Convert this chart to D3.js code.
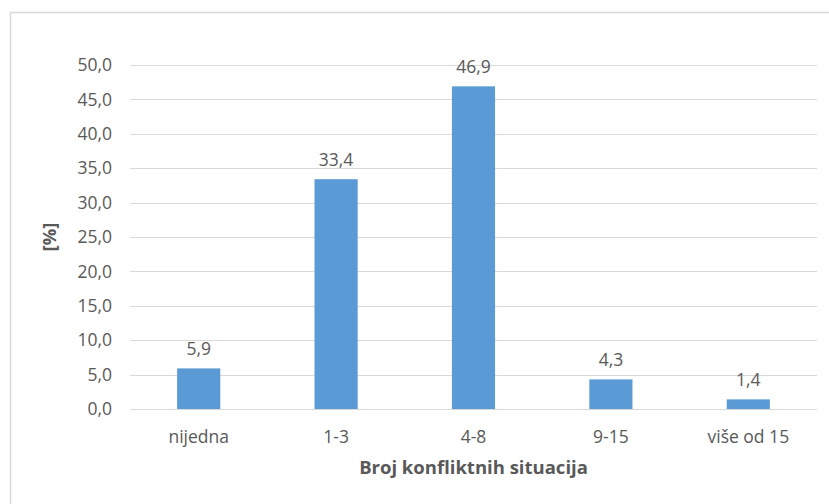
<!DOCTYPE html>
<html>
<head>
<meta charset="utf-8">
<script src="https://cdn.jsdelivr.net/npm/d3@7"></script>
<style>
  body { margin: 0; background: #fff; }
  svg text { font-family: "Open Sans", "Liberation Sans", sans-serif; fill: #595959; }
</style>
</head>
<body>
<svg id="chart" width="829" height="504"></svg>
<script>
// Number of conflict situations and their share in percent
const categories = ["nijedna", "1-3", "4-8", "9-15", "više od 15"];
const values = [5.9, 33.4, 46.9, 4.3, 1.4];
const yTicks = [0, 5, 10, 15, 20, 25, 30, 35, 40, 45, 50];
const xTitle = "Broj konfliktnih situacija";
const yTitle = "[%]";

const svg = d3.select("#chart");
const fmt = v => v.toFixed(1).replace(".", ",");
const labelSize = 17.5;

// outer frame
svg.append("rect")
  .attr("x", 10.5).attr("y", 12.5)
  .attr("width", 840).attr("height", 520)
  .attr("fill", "#fff").attr("stroke", "#d9d9d9").attr("stroke-width", 1.5);

const plot = { left: 130, right: 817, top: 65, bottom: 409 };

const x = d3.scaleBand()
  .domain(categories)
  .range([plot.left, plot.right])
  .paddingInner(0.686)
  .paddingOuter(0.343);

const y = d3.scaleLinear()
  .domain([0, 50])
  .range([plot.bottom, plot.top]);

// horizontal gridlines
svg.append("g")
  .selectAll("line")
  .data(yTicks)
  .join("line")
  .attr("x1", plot.left).attr("x2", plot.right)
  .attr("y1", d => Math.round(y(d)) + 0.5).attr("y2", d => Math.round(y(d)) + 0.5)
  .attr("stroke", "#d9d9d9").attr("stroke-width", 1);

// y axis labels
const yAxis = d3.axisLeft(y).tickValues(yTicks).tickFormat(fmt).tickSize(0).tickPadding(0);
svg.append("g")
  .attr("transform", `translate(${plot.left - 18},0)`)
  .call(yAxis)
  .call(g => g.select(".domain").remove())
  .call(g => g.selectAll("text")
    .attr("font-size", labelSize)
    .style("font-family", '"Open Sans", "Liberation Sans", sans-serif')
    .attr("fill", "#595959"));

// bars
svg.append("g")
  .selectAll("rect")
  .data(values)
  .join("rect")
  .attr("x", (d, i) => x(categories[i]))
  .attr("width", x.bandwidth())
  .attr("y", d => y(d))
  .attr("height", d => y(0) - y(d))
  .attr("fill", "#5b9bd5");

// value labels
svg.append("g")
  .selectAll("text")
  .data(values)
  .join("text")
  .attr("x", (d, i) => x(categories[i]) + x.bandwidth() / 2)
  .attr("y", d => y(d) - 13)
  .attr("text-anchor", "middle")
  .attr("font-size", labelSize)
  .text(fmt);

// x axis labels
const xAxis = d3.axisBottom(x).tickSize(0).tickPadding(0);
svg.append("g")
  .attr("transform", `translate(0,${plot.bottom + 34})`)
  .call(xAxis)
  .call(g => g.select(".domain").remove())
  .call(g => g.selectAll("text")
    .attr("dy", 0)
    .attr("font-size", labelSize)
    .style("font-family", '"Open Sans", "Liberation Sans", sans-serif')
    .attr("fill", "#595959"));

// axis titles
svg.append("text")
  .attr("x", (plot.left + plot.right) / 2)
  .attr("y", 474)
  .attr("text-anchor", "middle")
  .attr("font-size", 18.5)
  .attr("font-weight", "bold")
  .text(xTitle);

svg.append("text")
  .attr("transform", `translate(56,${(plot.top + plot.bottom) / 2}) rotate(-90)`)
  .attr("text-anchor", "middle")
  .attr("font-size", 18.5)
  .attr("font-weight", "bold")
  .text(yTitle);
</script>
</body>
</html>
